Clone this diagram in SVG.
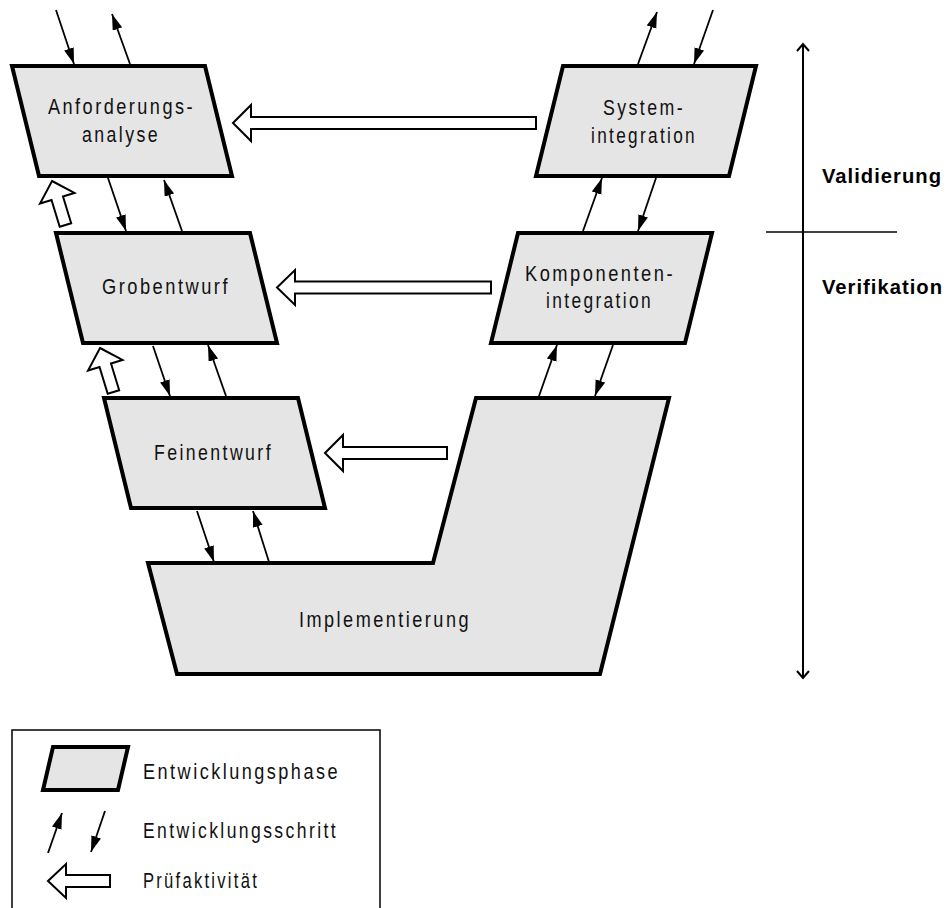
<svg xmlns="http://www.w3.org/2000/svg" width="949" height="908" viewBox="0 0 949 908">
<style>
.phase{fill:#e5e5e5;stroke:#000;stroke-width:4;stroke-linejoin:miter}
.step{fill:none;stroke:#000;stroke-width:1.8;marker-end:url(#ah)}
.check{fill:#fff;stroke:#000;stroke-width:2;stroke-linejoin:miter}
.lbl{font-family:"Liberation Sans",Arial,sans-serif;font-size:22px;letter-spacing:3px;fill:#111}
.bold{font-family:"Liberation Sans",Arial,sans-serif;font-size:20px;font-weight:bold;letter-spacing:1px;fill:#000}
.axis{fill:none;stroke:#000;stroke-width:2}
</style>
<defs>
<marker id="ah" markerUnits="userSpaceOnUse" markerWidth="17" markerHeight="11" refX="16" refY="5" orient="auto">
<path d="M0,0 L16,5 L0,10 Z" fill="#000"/>
</marker>
<polygon id="upcheck" points="0,0 18,18 6,18 6,46 -6,46 -6,18 -18,18"/>
</defs>
<rect width="949" height="908" fill="#fff"/>

<g id="anforderungsanalyse">
<polygon class="phase" points="12,66 205,66 232,176 39,176"/>
<text class="lbl" x="48" y="114" textLength="147" lengthAdjust="spacingAndGlyphs">Anforderungs-</text>
<text class="lbl" x="82" y="142" textLength="78" lengthAdjust="spacingAndGlyphs">analyse</text>
</g>
<g id="grobentwurf">
<polygon class="phase" points="56,233 250,233 277,343 83,343"/>
<text class="lbl" x="102" y="294" textLength="128" lengthAdjust="spacingAndGlyphs">Grobentwurf</text>
</g>
<g id="feinentwurf">
<polygon class="phase" points="104,398 298,398 325,508 131,508"/>
<text class="lbl" x="154" y="460" textLength="119" lengthAdjust="spacingAndGlyphs">Feinentwurf</text>
</g>
<g id="implementierung">
<polygon class="phase" points="148,563 433,563 476,398 669,398 600,674 177,674"/>
<text class="lbl" x="299" y="627" textLength="172" lengthAdjust="spacingAndGlyphs">Implementierung</text>
</g>
<g id="komponentenintegration">
<polygon class="phase" points="518,233 712,233 685,343 491,343"/>
<text class="lbl" x="525" y="281" textLength="150" lengthAdjust="spacingAndGlyphs">Komponenten-</text>
<text class="lbl" x="546" y="308" textLength="107" lengthAdjust="spacingAndGlyphs">integration</text>
</g>
<g id="systemintegration">
<polygon class="phase" points="563,66 756,66 729,176 536,176"/>
<text class="lbl" x="603" y="115" textLength="82" lengthAdjust="spacingAndGlyphs">System-</text>
<text class="lbl" x="591" y="143" textLength="106" lengthAdjust="spacingAndGlyphs">integration</text>
</g>

<g id="connectors">
<line class="step" x1="56" y1="10" x2="74" y2="64"/>
<line class="step" x1="130" y1="64" x2="112" y2="14"/>
<line class="step" x1="108" y1="178" x2="126" y2="231"/>
<line class="step" x1="182" y1="231" x2="164" y2="180"/>
<line class="step" x1="153" y1="346" x2="170" y2="396"/>
<line class="step" x1="226" y1="396" x2="208" y2="345"/>
<line class="step" x1="197" y1="511" x2="214" y2="562"/>
<line class="step" x1="269" y1="562" x2="253" y2="511"/>
<line class="step" x1="638" y1="64" x2="657" y2="12"/>
<line class="step" x1="713" y1="10" x2="694" y2="64"/>
<line class="step" x1="583" y1="231" x2="602" y2="178"/>
<line class="step" x1="656" y1="178" x2="638" y2="231"/>
<line class="step" x1="539" y1="396" x2="557" y2="345"/>
<line class="step" x1="613" y1="345" x2="595" y2="396"/>

<polygon class="check" points="233,123 251,105 251,117 536,117 536,129 251,129 251,141"/>
<polygon class="check" points="277,287.5 295,270 295,281.5 491,281.5 491,293.5 295,293.5 295,305"/>
<polygon class="check" points="325,453 343,435 343,447 447,447 447,459 343,459 343,471"/>
<use href="#upcheck" class="check" transform="translate(52,181) rotate(-17)"/>
<use href="#upcheck" class="check" transform="translate(100,348) rotate(-17)"/>
</g>

<g id="axis">
<line class="axis" x1="803" y1="44" x2="803" y2="677"/>
<polyline class="axis" points="797,51 803,44 809,51"/>
<polyline class="axis" points="797,671 803,678 809,671"/>
<line x1="766" y1="232" x2="897" y2="232" stroke="#000" stroke-width="1.5"/>
<text class="bold" x="822" y="183" textLength="120" lengthAdjust="spacingAndGlyphs">Validierung</text>
<text class="bold" x="822" y="294" textLength="121" lengthAdjust="spacingAndGlyphs">Verifikation</text>
</g>

<g id="legend">
<path d="M12,910 L12,730 L380,730 L380,910" fill="none" stroke="#000" stroke-width="1.5"/>
<polygon class="phase" points="53,747 128,747 118,790 43,790"/>
<text class="lbl" x="143" y="779" textLength="197" lengthAdjust="spacingAndGlyphs">Entwicklungsphase</text>
<line class="step" x1="48" y1="853" x2="62" y2="813"/>
<line class="step" x1="105" y1="811" x2="91" y2="852"/>
<text class="lbl" x="143" y="838" textLength="195" lengthAdjust="spacingAndGlyphs">Entwicklungsschritt</text>
<polygon class="check" points="48,881 66,864 66,875 110,875 110,887 66,887 66,898"/>
<text class="lbl" x="143" y="888" textLength="116" lengthAdjust="spacingAndGlyphs">Prüfaktivität</text>
</g>
</svg>
